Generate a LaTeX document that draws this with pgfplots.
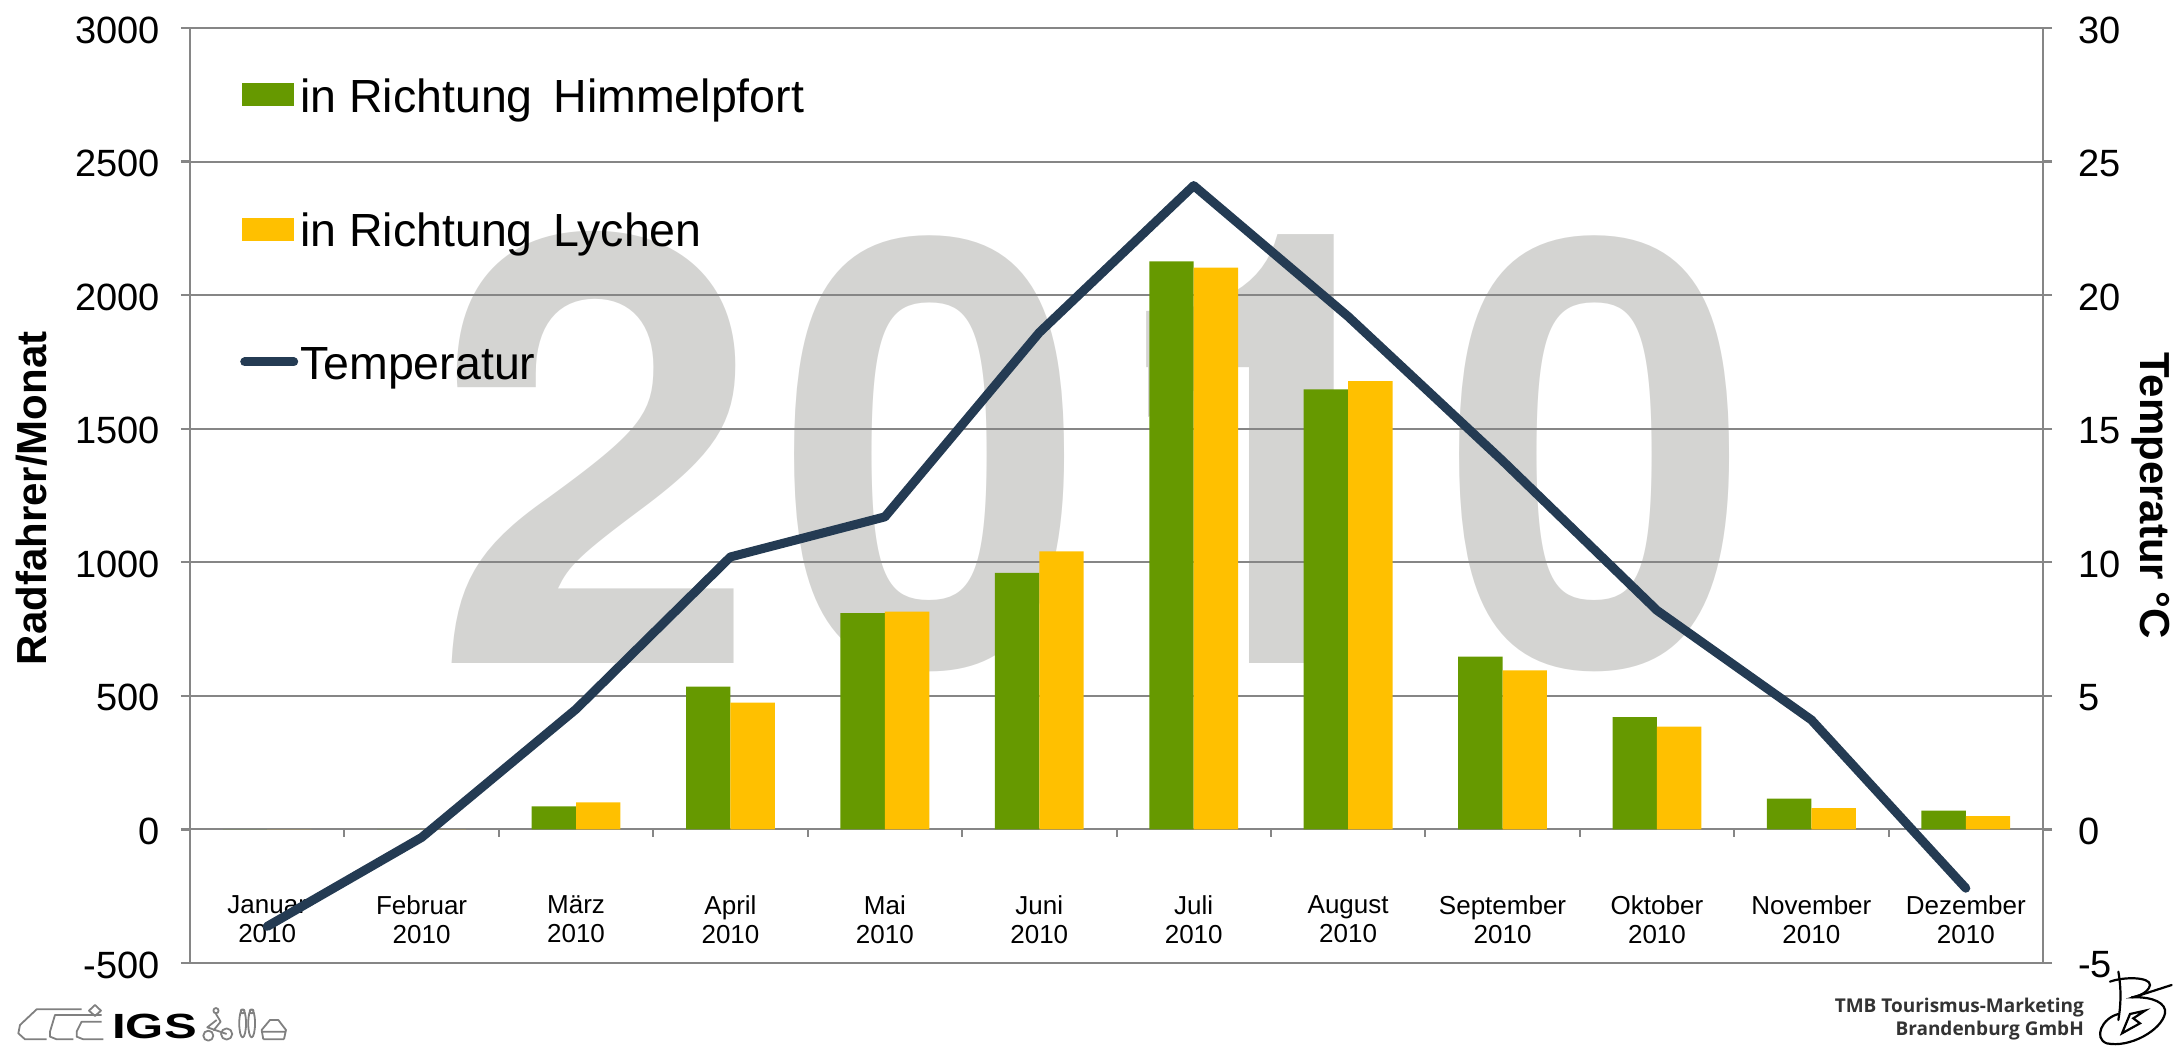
\documentclass[border=0pt]{standalone}
\usepackage{fontspec}
\setmainfont{Liberation Sans}
\newfontfamily\logofont{Open Sans}
\newfontfamily\bigfont{TeX Gyre Heros}
\usepackage{pgfplots}
\pgfplotsset{compat=1.18}
\definecolor{gridc}{HTML}{868686}
\definecolor{hgreen}{HTML}{669900}
\definecolor{lyellow}{HTML}{FFC000}
\definecolor{tempc}{HTML}{243B53}
\definecolor{bigc}{HTML}{D4D4D2}
\newcommand{\fs}[1]{\fontsize{#1}{#1}\selectfont}
\pgfplotstableread{
x hi ly temp
0 0 0 -3.63
1 0 0 -0.3
2 86 101 4.5
3 535 475 10.2
4 810 815 11.7
5 960 1041 18.6
6 2126 2103 24.1
7 1647 1678 19.2
8 647 595 13.8
9 420 385 8.2
10 115 80 4.1
11 70 50 -2.2
}\datatable
\begin{document}
\begin{tikzpicture}[x=1pt,y=1pt]
\path[use as bounding box] (0,0) rectangle (2175,1055);
% big 2010 behind the plot
\begin{scope}[every node/.style={text=bigc,inner sep=0pt,anchor=base}]
\node[font=\bigfont\fs{597}\bfseries,xscale=0.98] at (597,391) {2};
\node[font=\bigfont\fs{595}\bfseries,xscale=0.93] at (932.5,388) {0};
\node[font=\bigfont\fs{605}\bfseries] at (1274,391) {1};
\fill[bigc] (1148,689) -- (1148,638) -- (1254,699) -- (1254,689) -- cycle;
\node[font=\bigfont\fs{595}\bfseries,xscale=0.93] at (1597,388) {0};
\end{scope}
\begin{axis}[
  at={(190pt,92pt)},anchor=south west,scale only axis,
  width=1853pt,height=935pt,
  xmin=-0.5,xmax=11.5,ymin=-500,ymax=3000,
  axis y line*=left,axis x line=bottom,
  axis line style={gridc,line width=2.4pt,-},
  ytick={-500,0,...,3000},
  xtick={0,...,11},
  xticklabels={{Januar\\2010},{Februar\\2010},{März\\2010},{April\\2010},{Mai\\2010},{Juni\\2010},{Juli\\2010},{August\\2010},{September\\2010},{Oktober\\2010},{November\\2010},{Dezember\\2010}},
  xticklabel style={align=center,font=\fontsize{26}{29}\selectfont,yshift=77pt,anchor=north,inner sep=0pt},
  major x tick style={draw=none},
  ytick style={gridc,line width=2.4pt},
  tick align=outside,major tick length=9pt,
  ymajorgrids,grid style={gridc,line width=2pt},
  yticklabel style={font=\fs{38},/pgf/number format/assume math mode=true,/pgf/number format/set thousands separator={},inner sep=0pt,xshift=-21pt,yshift=-2pt},
  ylabel={\textbf{Radfahrer/Monat}},
  ylabel style={font=\fs{42},at={(axis description cs:-0.0853,0.497)},anchor=center},
  ybar,bar width=0.2875,
  legend cell align=left,
  legend style={at={(axis description cs:0.027,0.948)},anchor=north west,draw=none,fill=none,font=\fs{46.5},row sep=95pt,inner sep=0pt,
  /tikz/every odd column/.append style={column sep=0pt}},
  clip=false,
]
\addplot[draw=none,fill=hgreen,bar shift=-0.14375,
  legend image code/.code={\fill[hgreen] (0pt,-10pt) rectangle (52pt,13pt);}] table[x=x,y=hi]{\datatable};
\addlegendentry{in Richtung\, Himmelpfort}
\addplot[draw=none,fill=lyellow,bar shift=0.14375,
  legend image code/.code={\fill[lyellow] (0pt,-10pt) rectangle (52pt,13pt);}] table[x=x,y=ly]{\datatable};
\addlegendentry{in Richtung\, Lychen}
\addlegendimage{legend image code/.code={\draw[tempc,line width=9pt,line cap=round] (3pt,2pt) -- (52pt,2pt);}}
\addlegendentry{Temperatur}
\pgfplotsinvokeforeach{0,...,12}{\draw[gridc,line width=2pt] (axis cs:#1-0.5,0) -- ([yshift=-8pt]axis cs:#1-0.5,0);}
\end{axis}
\begin{axis}[
  at={(190pt,92pt)},anchor=south west,scale only axis,
  width=1853pt,height=935pt,
  xmin=-0.5,xmax=11.5,ymin=-5,ymax=30,
  axis y line*=right,axis x line=none,
  axis line style={gridc,line width=2.4pt,-},
  ytick={-5,0,...,30},
  ytick style={gridc,line width=2.4pt},
  tick align=outside,major tick length=9pt,
  yticklabel style={font=\fs{38},/pgf/number format/assume math mode=true,inner sep=0pt,xshift=26pt,yshift=-2pt},
  ylabel={\textbf{Temperatur °C}},
  ylabel style={font=\fs{42},at={(axis description cs:1.0583,0.5)},anchor=center,rotate=180},
  clip=false,
]
\addplot[tempc,line width=9pt,line cap=round,line join=round] table[x=x,y=temp]{\datatable};
\end{axis}
% IGS logo
\node[inner sep=0pt,font=\fs{35}\bfseries,xscale=1.4] at (154.5,29) {IGS};
\begin{scope}[shift={(0pt,65pt)},x=0.3333pt,y=-0.3333pt,draw=gray,line width=1.8pt,line join=round]
\draw (245,58) -- (110,58) -- (60,105) -- (55,130) -- (75,148) -- (140,148);
\draw (305,75) -- (165,75) -- (150,125) -- (150,140) -- (170,148) -- (220,148);
\draw (305,95) -- (245,95) -- (230,125) -- (230,140) -- (250,148) -- (310,148);
\draw (285,45) -- (303,62) -- (285,78) -- (267,62) -- cycle;
\draw (625,137) circle (5pt) (680,132) circle (5.6pt) (648,62) circle (2.6pt);
\draw (648,72) -- (662,95) -- (640,122) (650,90) -- (622,112) -- (680,132);
\draw (728,100) ellipse (3.4pt and 14pt) (728,64) circle (2pt) (755,100) ellipse (3.4pt and 14pt) (755,64) circle (2pt);
\draw (790,148) -- (785,120) -- (810,90) -- (835,90) -- (858,120) -- (852,148) (788,125) -- (855,125) (790,148) -- (852,148);
\end{scope}
% TMB logo
\node[anchor=east,inner sep=0pt,font=\logofont\bfseries\fs{19},align=right,text=black!80] at (2084,36) {TMB Tourismus-Marketing\\[3.5pt]Brandenburg GmbH};
\begin{scope}[shift={(1990pt,115pt)},x=0.3333pt,y=-0.3333pt,line width=2.2pt,black,line cap=round]
\draw (385,95) .. controls (395,150) and (392,200) .. (385,240);
\draw (360,125) .. controls (400,110) and (480,110) .. (480,135) .. controls (475,160) and (440,170) .. (425,172);
\draw (545,135) -- (430,172) .. controls (490,170) and (530,190) .. (525,220) .. controls (515,270) and (420,325) .. (350,310) .. controls (310,295) and (335,235) .. (385,222);
\draw (420,222) -- (396,280) -- (450,250) -- (430,235) -- (465,212) -- cycle;
\end{scope}
\end{tikzpicture}
\end{document}
